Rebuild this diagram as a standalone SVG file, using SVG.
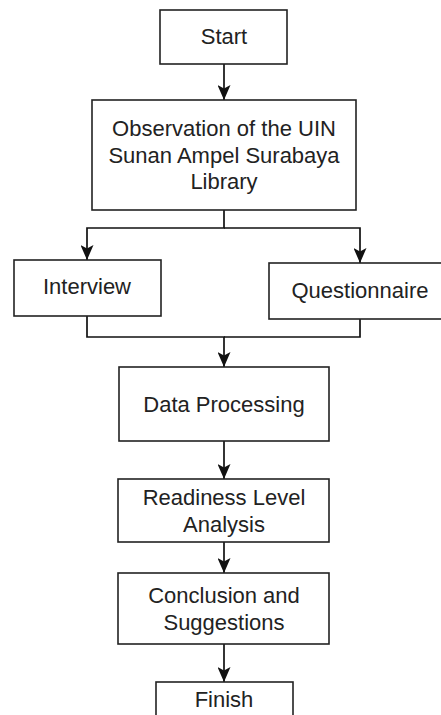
<svg xmlns="http://www.w3.org/2000/svg" width="441" height="715" viewBox="0 0 441 715">
  <defs>
    <marker id="arrow" viewBox="0 0 15 13" refX="15" refY="6.5" markerWidth="15" markerHeight="13" markerUnits="userSpaceOnUse" orient="auto">
      <path d="M0,0 L15,6.5 L0,13 L3.5,6.5 Z" fill="#111"/>
    </marker>
  </defs>
  <style>
    .box { fill: #fff; stroke: #222; stroke-width: 1.6; }
    .lbl { font-family: "Liberation Sans", Arial, sans-serif; font-size: 22px; fill: #222; text-anchor: middle; }
    .edge { fill: none; stroke: #111; stroke-width: 1.7; }
  </style>
  <rect width="441" height="715" fill="#fff"/>
  <g id="connectors">
    <path class="edge" d="M224,64 V100" marker-end="url(#arrow)"/>
    <path class="edge" d="M224,210 V228 H87 V260" marker-end="url(#arrow)"/>
    <path class="edge" d="M224,228 H360 V263" marker-end="url(#arrow)"/>
    <path class="edge" d="M87,316 V337 H224 V367" marker-end="url(#arrow)"/>
    <path class="edge" d="M360,319 V337 H224"/>
    <path class="edge" d="M224,441 V479" marker-end="url(#arrow)"/>
    <path class="edge" d="M224,542 V573" marker-end="url(#arrow)"/>
    <path class="edge" d="M224,644 V682" marker-end="url(#arrow)"/>
  </g>
  <g id="start">
    <rect class="box" x="160" y="10" width="127" height="54"/>
    <text class="lbl" x="224" y="44">Start</text>
  </g>
  <g id="observation">
    <rect class="box" x="92" y="100" width="264" height="110"/>
    <text class="lbl" x="224" y="136">Observation of the UIN</text>
    <text class="lbl" x="224" y="162.5">Sunan Ampel Surabaya</text>
    <text class="lbl" x="224" y="189">Library</text>
  </g>
  <g id="interview">
    <rect class="box" x="14" y="260" width="147" height="56"/>
    <text class="lbl" x="87" y="294">Interview</text>
  </g>
  <g id="questionnaire">
    <rect class="box" x="269" y="263" width="182" height="56"/>
    <text class="lbl" x="360" y="298">Questionnaire</text>
  </g>
  <g id="data-processing">
    <rect class="box" x="119" y="367" width="210" height="74"/>
    <text class="lbl" x="224" y="412">Data Processing</text>
  </g>
  <g id="readiness">
    <rect class="box" x="118" y="479" width="211" height="63"/>
    <text class="lbl" x="224" y="505">Readiness Level</text>
    <text class="lbl" x="224" y="531.5">Analysis</text>
  </g>
  <g id="conclusion">
    <rect class="box" x="118" y="573" width="211" height="71"/>
    <text class="lbl" x="224" y="603">Conclusion and</text>
    <text class="lbl" x="224" y="630">Suggestions</text>
  </g>
  <g id="finish">
    <rect class="box" x="156" y="682" width="137" height="50"/>
    <text class="lbl" x="224" y="707">Finish</text>
  </g>
</svg>
